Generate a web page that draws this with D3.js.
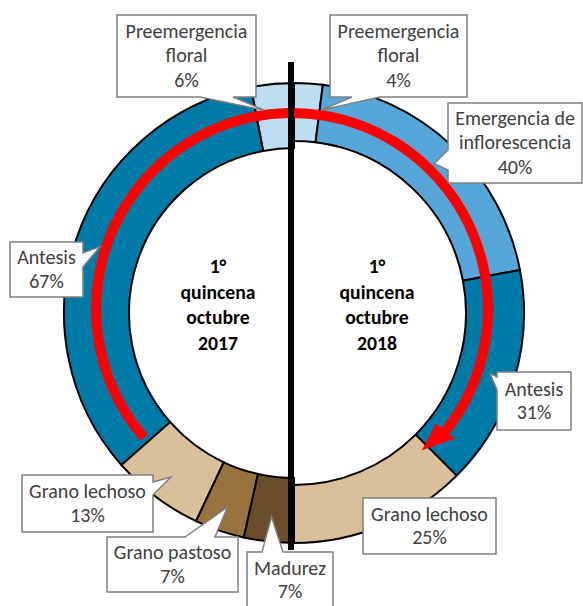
<!DOCTYPE html>
<html><head><meta charset="utf-8">
<script src="https://cdn.jsdelivr.net/npm/d3@7"></script>
<style>html,body{margin:0;padding:0;background:#fff;} svg{display:block;}</style>
</head><body>
<svg id="chart" width="583" height="606"></svg>
<script>
// ---- data ----
const stages2017 = ["Preemergencia floral", "Antesis", "Grano lechoso", "Grano pastoso", "Madurez"];
const values2017 = [6, 67, 13, 7, 7];
const stages2018 = ["Preemergencia floral", "Emergencia de inflorescencia", "Antesis", "Grano lechoso"];
const values2018 = [4, 40, 31, 25];
const centerLines2017 = ["1°", "quincena", "octubre", "2017"];
const centerLines2018 = ["1°", "quincena", "octubre", "2018"];
const stageNames = ["Preemergencia floral", "Emergencia de inflorescencia", "Antesis", "Grano lechoso", "Grano pastoso", "Madurez"];
const stagePalette = ["#BDDDF0", "#56A6DA", "#007BA8", "#D9C09B", "#98733D", "#6A4E29"];

// ---- layout ----
const W = 583, H = 606;
const cx = 294, cy = 313;
const outerR = 230, innerR2017 = 165, innerR2018 = 172;
const tipR = 205;
const labelFont = "Carlito, Calibri, Lato, sans-serif";

const svg = d3.select("#chart");
const color = d3.scaleOrdinal().domain(stageNames).range(stagePalette);
const deg = Math.PI / 180;

const pie2017 = d3.pie().sort(null).startAngle(0).endAngle(-Math.PI);
const pie2018 = d3.pie().sort(null).startAngle(0).endAngle(Math.PI);
const arcs2017 = pie2017(values2017).map((d, i) => ({...d, stage: stages2017[i], year: 2017}));
const arcs2018 = pie2018(values2018).map((d, i) => ({...d, stage: stages2018[i], year: 2018}));

const arc2017 = d3.arc().innerRadius(innerR2017).outerRadius(outerR);
const arc2018 = d3.arc().innerRadius(innerR2018).outerRadius(outerR);

const g = svg.append("g").attr("transform", `translate(${cx},${cy})`);
g.selectAll("path.s17").data(arcs2017).join("path")
  .attr("class", "s17").attr("d", arc2017)
  .attr("fill", d => color(d.stage)).attr("stroke", "#000").attr("stroke-width", 2);
g.selectAll("path.s18").data(arcs2018).join("path")
  .attr("class", "s18").attr("d", arc2018)
  .attr("fill", d => color(d.stage)).attr("stroke", "#000").attr("stroke-width", 2);

// ---- red curved arrow ----
const rc = { x: 292, y: 309, r: 196, w: 10 };
const redG = svg.append("g").attr("transform", `translate(${rc.x},${rc.y})`);
const shaftStart = -131 * deg, shaftEnd = 129 * deg, tipAng = 137.5 * deg;
redG.append("path")
  .attr("d", d3.arc().innerRadius(rc.r - rc.w / 2).outerRadius(rc.r + rc.w / 2)
    .startAngle(shaftStart).endAngle(shaftEnd)())
  .attr("fill", "#FF0000");
const polar = (r, a) => [r * Math.sin(a), -r * Math.cos(a)];
const headPts = [polar(rc.r - 12, shaftEnd - 0.5 * deg), polar(rc.r - 4, tipAng), polar(rc.r + 12, shaftEnd - 0.5 * deg)];
redG.append("path").attr("d", "M" + headPts.map(p => p.join(",")).join("L") + "Z").attr("fill", "#FF0000");

// ---- vertical divider ----
svg.append("rect").attr("x", 288).attr("y", 62).attr("width", 6).attr("height", 488).attr("fill", "#000");

// ---- center texts ----
function fitSize(str, weight, baseSize, target) {
  const t = svg.append("text").attr("font-family", labelFont).attr("font-weight", weight)
    .attr("font-size", baseSize).text(str);
  const w = t.node().getComputedTextLength();
  t.remove();
  return baseSize * target / w;
}
const centerSize = fitSize("quincena", "bold", 18.67, 75);
const labelSize = fitSize("Preemergencia", "normal", 20, 122);

function centerBlock(lines, x) {
  const t = svg.append("text").attr("font-family", labelFont).attr("font-weight", "bold")
    .attr("font-size", centerSize).attr("text-anchor", "middle").attr("fill", "#000");
  lines.forEach((s, i) => t.append("tspan").attr("x", x).attr("y", 273 + i * 25.7).text(s));
}
centerBlock(centerLines2017, 218);
centerBlock(centerLines2018, 377);

// ---- callouts ----
const calloutLayout = [
  {year: 2017, stage: "Preemergencia floral", lines: ["Preemergencia", "floral"], box: [117, 15, 256, 97], side: "bottom", p: 200, q: 233, tipShift: -2.9},
  {year: 2018, stage: "Preemergencia floral", lines: ["Preemergencia", "floral"], box: [330, 15, 467, 97], side: "bottom", p: 352, q: 380, tipShift: 4.2},
  {year: 2018, stage: "Emergencia de inflorescencia", lines: ["Emergencia de", "inflorescencia"], box: [448, 103, 582, 183], side: "left", p: 150, q: 170, tipShift: 0},
  {year: 2017, stage: "Antesis", lines: ["Antesis"], box: [10, 242, 83, 297], side: "right", p: 253, q: 267, tipShift: 0},
  {year: 2018, stage: "Antesis", lines: ["Antesis"], box: [497, 372, 571, 430], side: "left", p: 377, q: 390, tipShift: 0},
  {year: 2017, stage: "Grano lechoso", lines: ["Grano lechoso"], box: [22, 475, 153, 532], side: "right", p: 482, q: 495, tipShift: 0},
  {year: 2017, stage: "Grano pastoso", lines: ["Grano pastoso"], box: [107, 537, 238, 592], side: "top", p: 185, q: 215, tipShift: 0},
  {year: 2017, stage: "Madurez", lines: ["Madurez"], box: [247, 552, 333, 608], side: "top", p: 262, q: 283, tipShift: 0},
  {year: 2018, stage: "Grano lechoso", lines: ["Grano lechoso"], box: [363, 498, 496, 554], side: null, p: 0, q: 0, tipShift: 0}
];

function calloutPath(box, side, p, q, tip) {
  const [x0, y0, x1, y1] = box;
  const pts = [[x0, y0]];
  if (side === "top") pts.push([p, y0], tip, [q, y0]);
  pts.push([x1, y0]);
  if (side === "right") pts.push([x1, p], tip, [x1, q]);
  pts.push([x1, y1]);
  if (side === "bottom") pts.push([q, y1], tip, [p, y1]);
  pts.push([x0, y1]);
  if (side === "left") pts.push([x0, q], tip, [x0, p]);
  return "M" + pts.map(d => d.join(",")).join("L") + "Z";
}

const allArcs = arcs2017.concat(arcs2018);
calloutLayout.forEach(c => {
  const a = allArcs.find(d => d.year === c.year && d.stage === c.stage);
  const mid = (a.startAngle + a.endAngle) / 2 + c.tipShift * deg;
  const tip = [cx + tipR * Math.sin(mid), cy - tipR * Math.cos(mid)];
  svg.append("path").attr("d", calloutPath(c.box, c.side, c.p, c.q, tip))
    .attr("fill", "#fff").attr("stroke", "#7F7F7F").attr("stroke-width", 1.5).attr("stroke-linejoin", "miter");
  const lines = c.lines.concat([a.data + "%"]);
  const bx = (c.box[0] + c.box[2]) / 2;
  const by = (c.box[1] + c.box[3]) / 2;
  const lh = lines.length === 3 ? 24.5 : 23.5;
  const t = svg.append("text").attr("font-family", labelFont).attr("font-size", labelSize)
    .attr("text-anchor", "middle").attr("fill", "#404040");
  lines.forEach((s, i) => t.append("tspan").attr("x", bx)
    .attr("y", by + (i - (lines.length - 1) / 2) * lh + labelSize * 0.32).text(s));
});
</script>
</body></html>
